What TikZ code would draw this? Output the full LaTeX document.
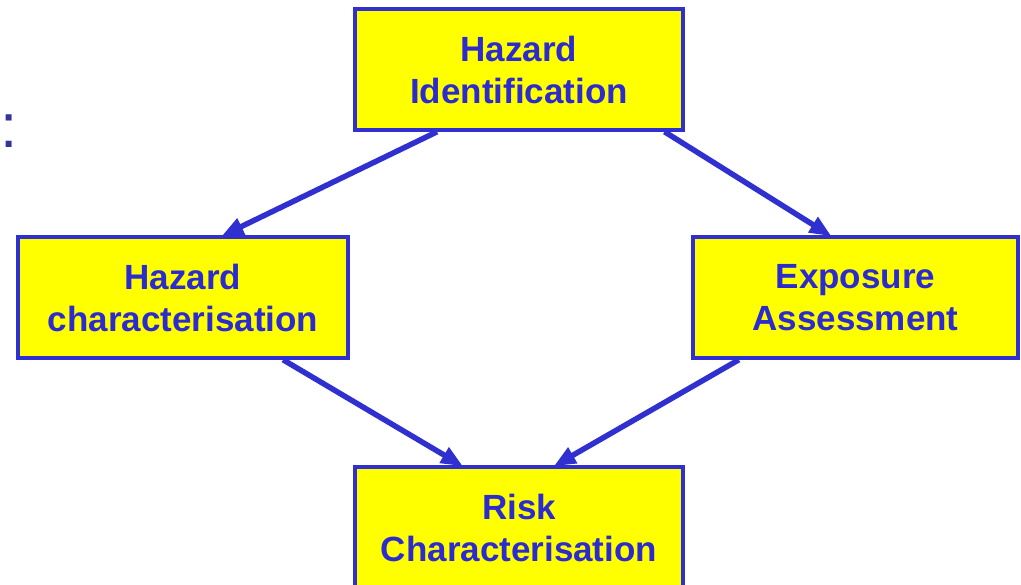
\documentclass[tikz,border=0pt]{standalone}
\usepackage{fontspec}
\setmainfont{Liberation Sans}
\usetikzlibrary{arrows.meta,calc}
\definecolor{boxblue}{HTML}{3030D0}
\definecolor{txtblue}{HTML}{2B2BD0}
\definecolor{boxyellow}{HTML}{FFFF00}
\definecolor{colonblue}{HTML}{333399}
\tikzset{
  stagebox/.style={draw=boxblue, fill=boxyellow, line width=3.5pt, rectangle,
    inner sep=0pt, minimum height=121pt, align=center, text=txtblue,
    font=\fontsize{35}{42}\selectfont\bfseries},
  flow/.style={draw=boxblue, line width=5.5pt,
    -{Triangle[length=22pt,width=17pt]}, shorten >=-2pt}
}
\begin{document}
\begin{tikzpicture}[x=1pt,y=-1pt]
\useasboundingbox (0,0) rectangle (1021,585);
\node[anchor=base west, inner sep=0pt, text=colonblue, font=\fontsize{62}{62}\selectfont] (colon) at (0,148) {:};
\node[stagebox, minimum width=328pt] (hid) at (519,69.5) {Hazard\\Identification};
\node[stagebox, minimum width=330pt] (hch) at (183,297.5) {Hazard\\characterisation};
\node[stagebox, minimum width=325pt] (exa) at (855.5,297.5) {Exposure\\Assessment};
\node[stagebox, minimum width=328pt] (rch) at (519,527.5) {Risk\\Characterisation};
\draw[flow] ($(hid.south west)!0.253!(hid.south east)$) -- ($(hch.north west)!0.621!(hch.north east)$);
\draw[flow] ($(hid.south west)!0.939!(hid.south east)$) -- ($(exa.north west)!0.422!(exa.north east)$);
\draw[flow] ($(hch.south west)!0.8!(hch.south east)$) -- ($(rch.north west)!0.326!(rch.north east)$);
\draw[flow] ($(exa.south west)!0.145!(exa.south east)$) -- ($(rch.north west)!0.61!(rch.north east)$);
\end{tikzpicture}
\end{document}
